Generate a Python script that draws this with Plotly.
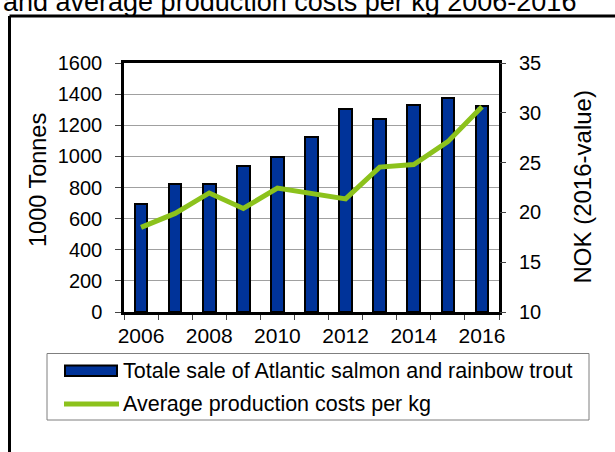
import plotly.graph_objects as go

years = [2006, 2007, 2008, 2009, 2010, 2011, 2012, 2013, 2014, 2015, 2016]
sale_1000_tonnes = [695, 822, 825, 940, 996, 1124, 1306, 1242, 1328, 1375, 1323]
cost_nok_per_kg = [18.5, 19.9, 21.95, 20.4, 22.45, 21.9, 21.35, 24.55, 24.8, 27.1, 30.6]

year_labels = [2006, 2008, 2010, 2012, 2014, 2016]
left_ticks = [0, 200, 400, 600, 800, 1000, 1200, 1400, 1600]
right_ticks = [10, 15, 20, 25, 30, 35]

bar_name = 'Totale sale of Atlantic salmon and rainbow trout'
line_name = 'Average production costs per kg'
title_text = 'and average production costs per kg 2006-2016'

BLUE = '#003399'
GREEN = '#8cc21c'
FONT = 'Liberation Sans, Arial, sans-serif'

# plot area in pixels (615x452 page)
L, T, W, H = 124, 63, 375, 249
B = T + H


def px(x):
    return (x - L) / W


def py(y):
    return (B - y) / H


bars = go.Bar(
    x=years,
    y=sale_1000_tonnes,
    width=0.37,
    marker=dict(color=BLUE, line=dict(color='black', width=2)),
    name=bar_name,
    yaxis='y',
    )

line = go.Scatter(
    x=years,
    y=cost_nok_per_kg,
    mode='lines',
    line=dict(color=GREEN, width=5),
    name=line_name,
    yaxis='y2',
    )

shapes = [
    # outer frame (left and top edge)
    dict(type='line', xref='paper', yref='paper', x0=px(9.5), x1=px(640),
         y0=py(16), y1=py(16), line=dict(color='black', width=3)),
    dict(type='line', xref='paper', yref='paper', x0=px(9.5), x1=px(9.5),
         y0=py(16), y1=py(470), line=dict(color='black', width=3)),
    # legend box
    dict(type='rect', xref='paper', yref='paper', x0=px(47), x1=px(589),
         y0=py(353.5), y1=py(420), line=dict(color='#7f7f7f', width=1)),
    dict(type='rect', xref='paper', yref='paper', x0=px(65), x1=px(117),
         y0=py(365.5), y1=py(376), fillcolor=BLUE, line=dict(color='black', width=2)),
    dict(type='line', xref='paper', yref='paper', x0=px(64), x1=px(119),
         y0=py(404), y1=py(404), line=dict(color=GREEN, width=5)),
    ]

annotations = [
    dict(text=title_text, xref='paper', yref='paper', x=px(1), y=py(19),
         xanchor='left', yanchor='bottom', showarrow=False,
         font=dict(size=27, color='black', family=FONT)),
    dict(text='1000 Tonnes', xref='paper', yref='paper', x=px(38), y=py(180),
         xanchor='center', yanchor='middle', textangle=-90, showarrow=False,
         font=dict(size=23.5, color='black', family=FONT)),
    dict(text='NOK (2016-value)', xref='paper', yref='paper', x=px(582), y=py(187.5),
         xanchor='center', yanchor='middle', textangle=-90, showarrow=False,
         font=dict(size=24, color='black', family=FONT)),
    dict(text=bar_name, xref='paper', yref='paper', x=px(121), y=py(371),
         xanchor='left', yanchor='middle', showarrow=False,
         font=dict(size=21.5, color='black', family=FONT)),
    dict(text=line_name, xref='paper', yref='paper', x=px(121), y=py(404),
         xanchor='left', yanchor='middle', showarrow=False,
         font=dict(size=21.5, color='black', family=FONT)),
    ]

layout = go.Layout(
    width=615,
    height=452,
    margin=dict(l=L, r=615 - L - W, t=T, b=452 - B, pad=0),
    paper_bgcolor='white',
    plot_bgcolor='white',
    showlegend=False,
    bargap=0,
    font=dict(family=FONT, color='black', size=20),
    xaxis=dict(
        range=[2005.5, 2016.5],
        tickmode='array',
        tickvals=year_labels,
        ticks='',
        ticklen=0,
        ticklabelstandoff=3,
        tickfont=dict(size=21),
        showgrid=False,
        zeroline=False,
        showline=True,
        linecolor='black',
        linewidth=2.5,
        mirror=True,
        minor=dict(
            tickmode='array',
            tickvals=[y - 0.5 for y in years] + [years[-1] + 0.5],
            ticks='outside',
            ticklen=5,
            tickwidth=1,
            tickcolor='#444444',
            showgrid=False,
            ),
        ),
    yaxis=dict(
        range=[0, 1600],
        tickmode='array',
        tickvals=left_ticks,
        ticks='outside',
        ticklen=6,
        tickwidth=1,
        tickcolor='#444444',
        ticklabelstandoff=9,
        tickfont=dict(size=20),
        showgrid=True,
        gridcolor='#a0a0a0',
        gridwidth=1.3,
        zeroline=False,
        showline=True,
        linecolor='black',
        linewidth=2.5,
        mirror=True,
        ),
    yaxis2=dict(
        range=[10, 35],
        overlaying='y',
        side='right',
        tickmode='array',
        tickvals=right_ticks,
        ticks='outside',
        ticklen=6,
        tickwidth=1,
        tickcolor='#444444',
        ticklabelstandoff=9,
        tickfont=dict(size=20),
        showgrid=False,
        zeroline=False,
        showline=False,
        ),
    shapes=shapes,
    annotations=annotations,
    )

fig = go.Figure(data=[bars, line], layout=layout)
# drop the browser's default body margin so the chart sits at the page corner
fig.write_html(
    'out.html',
    config={'displayModeBar': False},
    post_script="document.body.style.margin='0';document.body.style.overflow='hidden';",
    )
